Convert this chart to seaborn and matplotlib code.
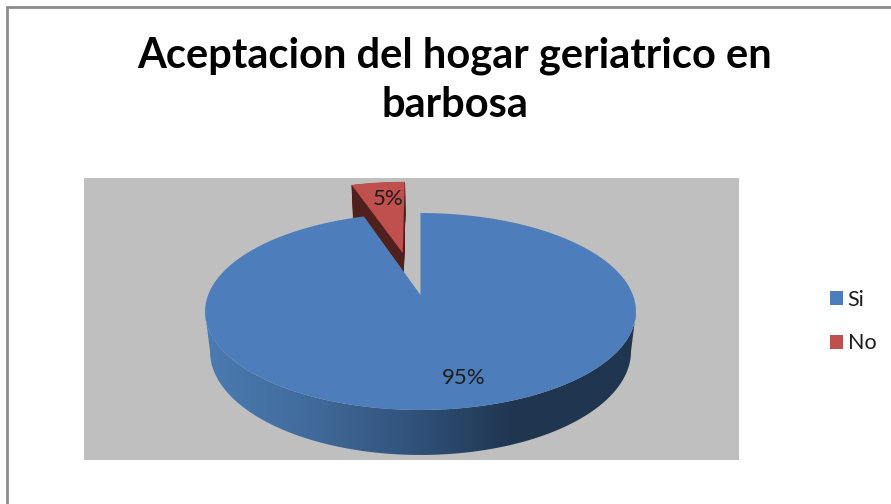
import numpy as np
import matplotlib
matplotlib.use("Agg")
import matplotlib.pyplot as plt
import seaborn as sns
from matplotlib.colors import LinearSegmentedColormap
from matplotlib.lines import Line2D
from matplotlib.patches import Polygon

categories = ["Si", "No"]
values = [95, 5]
title = "Aceptacion del hogar geriatrico en\nbarbosa"
colors = ["#4d7ebb", "#c0504d"]
side_red = "#4f201d"
explode = [0, 0.48]

sns.set_theme(style="white")
plt.rcParams["font.family"] = ["Lato", "DejaVu Sans"]

W, H = 891, 504
fig = plt.figure(figsize=(W / 100, H / 100), dpi=100, facecolor="white")

# Grey plot area, with data coordinates equal to image pixels
L, R, T, B = 84, 739, 178, 460
ax = fig.add_axes([L / W, 1 - B / H, (R - L) / W, (B - T) / H])
wedges, _ = ax.pie(values, colors=colors, startangle=90, counterclock=False,
                   explode=explode, radius=1, frame=True)
pie_geom = [(w.center, w.r, w.theta1, w.theta2) for w in wedges]
for w in wedges:
    w.remove()
ax.set_aspect("auto")
ax.set_xlim(L, R)
ax.set_ylim(B, T)
ax.set_facecolor("#bfbfbf")
ax.set_xticks([])
ax.set_yticks([])
for s in ax.spines.values():
    s.set_visible(False)

# Perspective projection of the unit pie onto the tilted disc
TIP_X, TIP_Y = 420.5, 295.0
K, BY, CX = -0.1675, 95.7, 212.4
RED_SHIFT = -3.0


def project(x, y_up, depth=0.0):
    y = -np.asarray(y_up)
    d = 1 + K * y
    px = CX * np.asarray(x) / d
    py = BY * y / d
    # depth sweep toward the lower plane
    px = px * (1 - 0.023 * depth)
    py = py + depth * (45 - (115 - py) * 12 / 225)
    return TIP_X + px, TIP_Y + py


def wedge_xy(geom, depth=0.0, shift=0.0):
    (cx, cy), r, t1, t2 = geom
    th = np.radians(np.linspace(t1, t2, 400))
    xs = np.r_[cx, cx + r * np.cos(th)]
    ys = np.r_[cy, cy + r * np.sin(th)]
    px, py = project(xs, ys, depth)
    return np.column_stack((px + shift, py))


# Red slice side, then top
for d in np.linspace(1, 0.02, 40):
    ax.add_patch(Polygon(wedge_xy(pie_geom[1], d, RED_SHIFT), closed=True, fc=side_red, ec=side_red, lw=0.5, zorder=2))
red_top = Polygon(wedge_xy(pie_geom[1], 0, RED_SHIFT), closed=True, fc=colors[1], ec="none", zorder=3)
ax.add_patch(red_top)

# Blue disc wall with a horizontal shading
th = np.radians(np.linspace(0, 360, 1441))


def front_arc(depth):
    x, y = project(np.cos(th), np.sin(th), depth)
    i0, i1 = np.argmin(x), np.argmax(x)
    a, b = sorted((i0, i1))
    m1 = np.arange(a, b + 1)
    m2 = np.r_[np.arange(b, len(x)), np.arange(0, a + 1)]
    m = m1 if y[m1].mean() > y[m2].mean() else m2
    pts = np.column_stack((x[m], y[m]))
    return pts[np.argsort(pts[:, 0])]


top_arc = front_arc(0)
bottom_arc = front_arc(1)
wall = Polygon(np.vstack((top_arc, bottom_arc[::-1])), closed=True, transform=ax.transData, fc="none", ec="none")
ax.add_patch(wall)
cmap = LinearSegmentedColormap.from_list("wall", [(0, "#4a7bb0"), (0.25, "#416a9b"), (0.5, "#2f5078"), (0.72, "#20354f"), (1, "#203650")])
img = ax.imshow(np.linspace(0, 1, 256)[None, :], cmap=cmap, extent=(205, 636, B, T), aspect="auto", zorder=4)
img.set_clip_path(wall)
ax.set_xlim(L, R)
ax.set_ylim(B, T)

blue_top = Polygon(wedge_xy(pie_geom[0]), closed=True, fc=colors[0], ec="none", zorder=5)
ax.add_patch(blue_top)

ax.text(463.5, 378.5, f"{values[0]}%", ha="center", va="center", fontsize=16, color="#1c1c1c", zorder=6)
ax.text(388.5, 199, f"{values[1]}%", ha="center", va="center", fontsize=16, color="#1c1c1c", zorder=6)

fig.text(455 / W, 1 - 80 / H, title, ha="center", va="center", fontsize=30, fontweight="bold",
         color="black", linespacing=1.36)

leg_handles = [plt.Rectangle((0, 0), 1, 1, fc=c, ec="none") for c in colors]
fig.legend(leg_handles, categories, loc="center left", bbox_to_anchor=(830 / W, 1 - 321.5 / H), frameon=False,
           fontsize=15.5, handlelength=0.62, handleheight=0.62, handletextpad=0.2, labelspacing=1.09,
           borderpad=0, borderaxespad=0, labelcolor="#1c1c1c")

# Chart border
for xs, ys in (((6.5, 6.5), (H, 6.5)), ((6.5, W), (6.5, 6.5))):
    fig.add_artist(Line2D([x / W for x in xs], [1 - y / H for y in ys], color="#8c8c8c", lw=2.0))

fig.savefig("out.png", dpi=100, facecolor="white")
